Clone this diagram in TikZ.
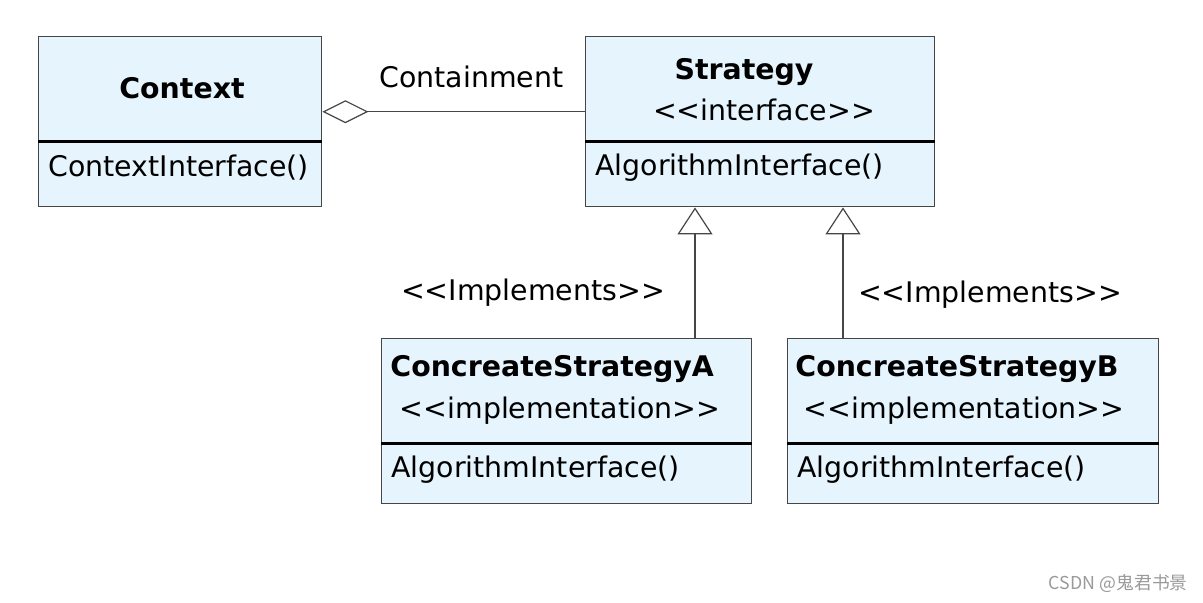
\documentclass[tikz,border=0pt]{standalone}
\usepackage{fontspec}
\setmainfont{DejaVu Sans}
\newfontfamily\cjk{Noto Sans CJK SC}
\usetikzlibrary{arrows.meta}
\definecolor{boxfill}{RGB}{230,245,253}
\definecolor{boxline}{RGB}{70,70,70}
\newcommand\stereo[1]{<{}<#1>{}>}

\begin{document}
\begin{tikzpicture}[x=0.5pt,y=-0.5pt,
	classbox/.style={draw=boxline,line width=0.7pt,fill=boxfill,anchor=north west,inner sep=0pt},
	txt/.style={inner sep=0pt,font=\fontsize{14.2}{17}\selectfont},
	bold/.style={inner sep=0pt,font=\fontsize{14.2}{17}\selectfont\bfseries},
	sep/.style={line width=1.5pt},
	link/.style={draw=boxline,line width=0.6pt}]

	\useasboundingbox (0,0) rectangle (1203,602);

	% classes

	\node[classbox,minimum width=141.5pt,minimum height=85pt] (ctx) at (38,36) {};
	\node[classbox,minimum width=174.5pt,minimum height=85pt] (strat) at (585,36) {};
	\node[classbox,minimum width=185pt,minimum height=82.5pt] (csa) at (381,338) {};
	\node[classbox,minimum width=185.5pt,minimum height=82.5pt] (csb) at (787,338) {};

	\foreach \c in {ctx,strat,csa,csb}
		\draw[sep] ([yshift=-52.5pt]\c.north west) -- ([yshift=-52.5pt]\c.north east);

	% class texts

	\node[bold] (ctxname) at (182,88) {Context};
	\node[txt,anchor=west] (ctxop) at (48,168) {ContextInterface()};

	\node[bold] (stname) at (744,72) {Strategy};
	\node[txt] (stiface) at (764,110) {\stereo{interface}};
	\node[txt,anchor=west] (stop) at (595,168) {AlgorithmInterface()};

	\node[bold,anchor=west] (csaname) at (390,369) {ConcreateStrategyA};
	\node[txt] (csaimpl) at (560,411) {\stereo{implementation}};
	\node[txt,anchor=west] (csaop) at (391,470) {AlgorithmInterface()};

	\node[bold,anchor=west] (csbname) at (795,369) {ConcreateStrategyB};
	\node[txt] (csbimpl) at (964,411) {\stereo{implementation}};
	\node[txt,anchor=west] (csbop) at (797,470) {AlgorithmInterface()};

	% relations

	\coordinate (cc) at ([yshift=5pt]ctx.east);
	\draw[link,{Diamond[open,length=23pt,width=11.5pt]}-] (cc) -- (cc -| strat.west);
	\node[txt] (contlbl) at (471.5,77) {Containment};

	\coordinate (ia) at ([xshift=157pt]csa.north west);
	\coordinate (ib) at ([xshift=28pt]csb.north west);
	\draw[link,-{Triangle[open,width=17.5pt,length=13.5pt]}] (ia) -- (ia |- strat.south);
	\draw[link,-{Triangle[open,width=17.5pt,length=13.5pt]}] (ib) -- (ib |- strat.south);
	\node[txt] (impla) at (533,293) {\stereo{Implements}};
	\node[txt] (implb) at (990,295) {\stereo{Implements}};

	\node[font=\cjk\fontsize{8.9}{10}\selectfont,text=black!40,anchor=east,inner sep=0pt] (mark) at (1188,583) {CSDN @鬼君书景};

\end{tikzpicture}
\end{document}
